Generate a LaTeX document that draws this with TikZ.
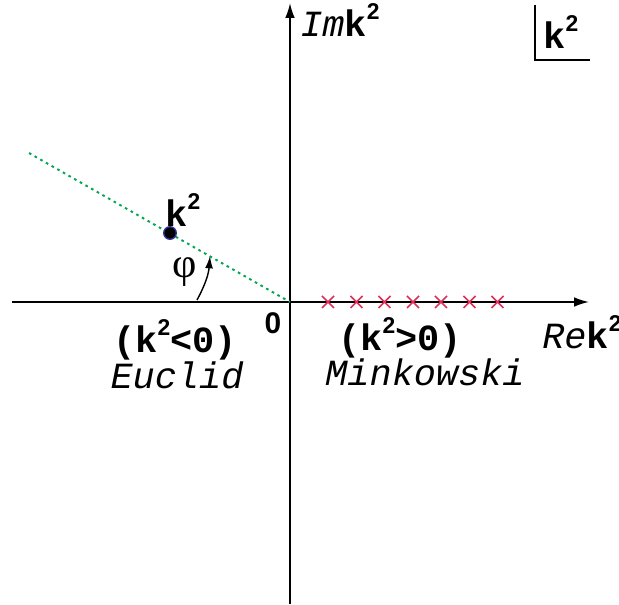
\documentclass[tikz,border=0pt]{standalone}
\usepackage{fontspec}
\setmainfont{Liberation Serif}
\setsansfont{Liberation Sans}
\setmonofont{Liberation Mono}
\usetikzlibrary{arrows.meta}
\definecolor{linegreen}{HTML}{00A651}
\definecolor{polered}{HTML}{E0305A}
\definecolor{dotblue}{HTML}{2B2F8F}
\newcommand{\ksq}{\textbf{k}\raisebox{0.85ex}{\sffamily\bfseries\fontsize{13}{13}\selectfont 2}}

\begin{document}
\begin{tikzpicture}[
    axis/.style={line width=1pt, -{Latex[length=8.5pt,width=5.5pt]}},
    pole/.style={polered, line width=0.9pt},
    lbl/.style={font=\fontsize{21}{24}\selectfont\ttfamily, inner sep=0pt},
    blbl/.style={font=\fontsize{21}{24}\selectfont\ttfamily\bfseries, inner sep=0pt}
  ]
    \useasboundingbox (-5.8,-6.06) rectangle (6.58,6.04);
    \coordinate (O) at (0,0);
    \coordinate (xl) at (-5.56,0);
    \coordinate (xr) at (5.98,0);
    \coordinate (yb) at (0,-6.04);
    \coordinate (yt) at (0,5.98);
    \draw[axis] (xl) -- (xr);
    \draw[axis] (yb) -- (yt);
    % ray to the point k^2
    \coordinate (ray) at (-5.22,2.98);
    \draw[linegreen, line width=1.1pt, dash pattern=on 1.5pt off 2.2pt] (ray) -- (O);
    \node[circle, fill=black, draw=dotblue, line width=0.8pt, minimum size=0.25cm, inner sep=0pt] (pt) at (-2.4,1.38) {};
    \node[blbl] (ptlbl) at (-2.14,1.84) {\ksq};
    \node[font=\fontsize{24}{26}\selectfont\rmfamily, inner sep=0pt] (phi) at (-2.1,0.6) {φ};
    \coordinate (phia) at (-1.86,0.04);
    \coordinate (phib) at (-1.6,0.92);
    \draw[line width=0.8pt, -{Latex[length=7pt,width=4.5pt]}] (phia) to[bend right=12] (phib);
    % poles on the positive real axis
    \foreach \x in {0.76,1.33,1.89,2.46,3.02,3.59,4.15}
      \draw[pole] (\x-0.12,-0.12) -- (\x+0.12,0.12) (\x-0.12,0.12) -- (\x+0.12,-0.12);
    % labels
    \node[lbl, anchor=west] (im) at (0.2,5.64) {\itshape Im\upshape\ksq};
    \node[lbl, anchor=west] (re) at (5.04,-0.6) {\itshape Re\upshape\ksq};
    \node[font=\fontsize{17}{20}\selectfont\sffamily\bfseries, inner sep=0pt] (zero) at (-0.34,-0.42) {0};
    \node[blbl] (eu) at (-2.3,-0.76) {(\ksq<0)};
    \node[lbl] (eun) at (-2.26,-1.46) {\itshape Euclid};
    \node[blbl] (mi) at (2.2,-0.72) {(\ksq>0)};
    \node[lbl] (min) at (2.7,-1.4) {\itshape Minkowski};
    % corner box
    \coordinate (bxt) at (4.9,5.94);
    \coordinate (bxc) at (4.9,4.84);
    \coordinate (bxr) at (6.0,4.84);
    \draw[line width=0.8pt] (bxt) -- (bxc) -- (bxr);
    \node[blbl] (bxl) at (5.42,5.4) {\ksq};
\end{tikzpicture}
\end{document}
